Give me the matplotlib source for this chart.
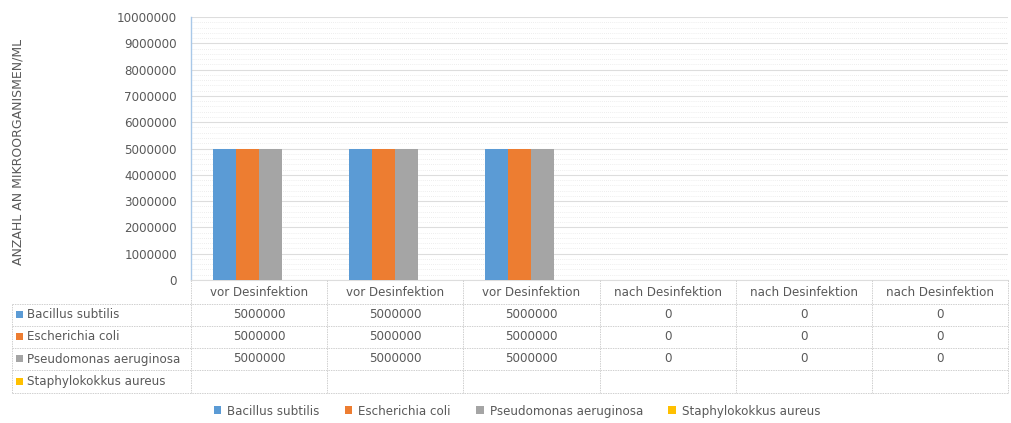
import numpy as np
import matplotlib
matplotlib.use("Agg")
import matplotlib.pyplot as plt
from matplotlib.patches import Patch
from matplotlib.ticker import MultipleLocator, FuncFormatter

categories = ["vor Desinfektion", "vor Desinfektion", "vor Desinfektion",
              "nach Desinfektion", "nach Desinfektion", "nach Desinfektion"]
series_names = ["Bacillus subtilis", "Escherichia coli",
                "Pseudomonas aeruginosa", "Staphylokokkus aureus"]
bacillus = [5000000, 5000000, 5000000, 0, 0, 0]
ecoli = [5000000, 5000000, 5000000, 0, 0, 0]
pseudomonas = [5000000, 5000000, 5000000, 0, 0, 0]
staphylo = [np.nan, np.nan, np.nan, np.nan, np.nan, np.nan]
y_ticks = [0, 1000000, 2000000, 3000000, 4000000, 5000000,
           6000000, 7000000, 8000000, 9000000, 10000000]
y_label = "ANZAHL AN MIKROORGANISMEN/ML"

colors = ["#5B9BD5", "#ED7D31", "#A5A5A5", "#FFC000"]
text_col = "#595959"
grid_col = "#DDDDDD"
FONT = "DejaVu Sans"
FS = 8.6

W, H = 1011, 423
fig = plt.figure(figsize=(W / 100, H / 100), dpi=100)
fig.patch.set_facecolor("white")

# plot area in pixel terms
L, R, T, B = 191, 1008, 17, 280
ax = fig.add_axes([L / W, 1 - B / H, (R - L) / W, (B - T) / H])

all_series = [bacillus, ecoli, pseudomonas, staphylo]
n = len(categories)
x = np.arange(n)
bw = 0.169
for i, (vals, c) in enumerate(zip(all_series, colors)):
    ax.bar(x + (i - 1.5) * bw, vals, width=bw, color=c, zorder=3)

ax.set_xlim(-0.5, n - 0.5)
ax.set_ylim(y_ticks[0], y_ticks[-1])
ax.set_yticks(y_ticks)
ax.yaxis.set_minor_locator(MultipleLocator(200000))
ax.yaxis.set_major_formatter(FuncFormatter(lambda v, p: f"{int(round(v))}"))
ax.set_xticks([])
ax.tick_params(axis="y", which="both", length=0, pad=10, labelsize=FS,
               labelcolor=text_col)
for lab in ax.get_yticklabels():
    lab.set_family(FONT)
ax.grid(axis="y", which="major", color=grid_col, linewidth=0.8, zorder=0)
ax.grid(axis="y", which="minor", color="#E8E8E8", linewidth=0.6,
        linestyle=(0, (1, 1.5)), zorder=0)
for s in ["top", "right"]:
    ax.spines[s].set_visible(False)
ax.spines["left"].set_color("#A9C8E8")
ax.spines["left"].set_linewidth(1.0)
ax.spines["bottom"].set_color(grid_col)
ax.spines["bottom"].set_linewidth(0.8)

fig.text(18 / W, 1 - 152 / H, y_label, rotation=90, ha="center", va="center",
         fontsize=9, color=text_col, family=FONT)

# data table underneath the plot, drawn on a pixel-coordinate overlay
ov = fig.add_axes([0, 0, 1, 1], facecolor="none")
ov.set_xlim(0, W)
ov.set_ylim(H, 0)
ov.axis("off")

col_w = (R - L) / n
col_edges = [L + k * col_w for k in range(n + 1)]
row_edges = [B, 304, 326, 348, 370, 393]
table_left = 12
lc = "#D0D0D0"
ls = (0, (1.5, 1))

for xe in col_edges:
    ov.plot([xe, xe], [row_edges[0], row_edges[-1]], color=lc, lw=0.7,
            linestyle=ls)
ov.plot([table_left, table_left], [row_edges[1], row_edges[-1]], color=lc,
        lw=0.7, linestyle=ls)
for ye in row_edges[1:]:
    ov.plot([table_left, R], [ye, ye], color=lc, lw=0.7, linestyle=ls)

for k, cat in enumerate(categories):
    cx = (col_edges[k] + col_edges[k + 1]) / 2
    ov.text(cx, (row_edges[0] + row_edges[1]) / 2 + 1, cat, ha="center",
            va="center", fontsize=FS, color=text_col, family=FONT)

for r, (name, vals, c) in enumerate(zip(series_names, all_series, colors)):
    cy = (row_edges[r + 1] + row_edges[r + 2]) / 2
    ov.add_patch(plt.Rectangle((16, cy - 3.5), 7, 7, color=c, lw=0))
    ov.text(27, cy, name, ha="left", va="center", fontsize=FS,
            color=text_col, family=FONT)
    for k, v in enumerate(vals):
        if np.isnan(v):
            continue
        cx = (col_edges[k] + col_edges[k + 1]) / 2
        ov.text(cx, cy, f"{int(v)}", ha="center", va="center", fontsize=FS,
                color=text_col, family=FONT)

handles = [Patch(facecolor=c, edgecolor="none", label=nm)
           for c, nm in zip(colors, series_names)]
fig.legend(handles=handles, loc="center", ncol=4,
           bbox_to_anchor=(517 / W, 1 - 411 / H), frameon=False,
           prop={"family": FONT, "size": FS}, labelcolor=text_col,
           handlelength=0.65, handleheight=0.65, handletextpad=0.5,
           columnspacing=2.1)

fig.savefig("out.png", dpi=100, facecolor="white")
